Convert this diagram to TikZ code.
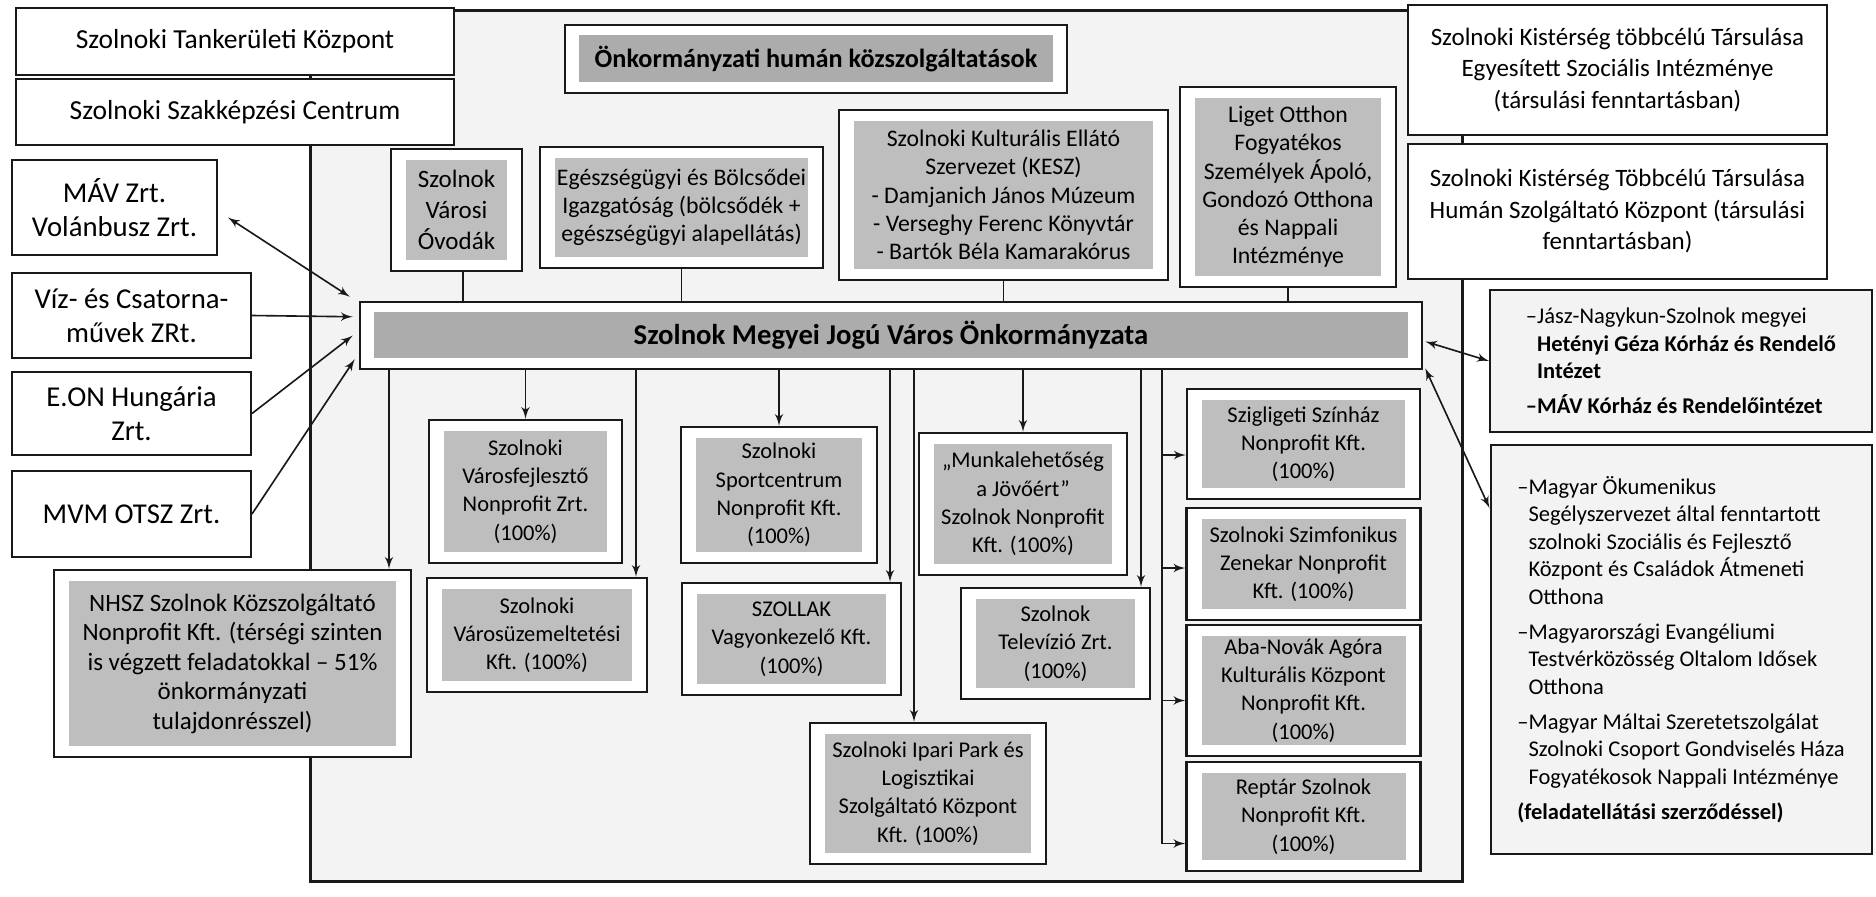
\documentclass[tikz,border=0pt]{standalone}
\usepackage{fontspec}
\setmainfont{Carlito}
\usepackage{xcolor}
\definecolor{boxgrey}{RGB}{190, 190, 190}
\definecolor{bargrey}{RGB}{172, 172, 172}
\definecolor{framegrey}{RGB}{243, 243, 243}
\definecolor{darkline}{RGB}{25, 25, 25}
\usepackage{tikz}
\usetikzlibrary{arrows, positioning, calc}

\begin{document}
\begin{tikzpicture}[x=0.4pt, y=-0.4pt, node distance=4pt,
        wh/.style 2 args={minimum width=#1*0.4pt, minimum height=#2*0.4pt},
        plain/.style={rectangle, draw=darkline, line width=0.8pt, fill=white, align=center, inner sep=2pt, font=\fontsize{11.5}{13.5}\selectfont},
        unit/.style={rectangle, draw=darkline, line width=1pt, fill=white, align=center, inner sep=2pt, font=\fontsize{9}{11.3}\selectfont,
            path picture={\fill[boxgrey] ([shift={(6pt,4.4pt)}]path picture bounding box.south west) rectangle ([shift={(-6pt,-4.4pt)}]path picture bounding box.north east);}},
        banner/.style={rectangle, draw=darkline, line width=1pt, fill=white, align=center, inner sep=2pt,
            path picture={\fill[bargrey] ([shift={(5.6pt,4.4pt)}]path picture bounding box.south west) rectangle ([shift={(-5.6pt,-4pt)}]path picture bounding box.north east);}},
        list/.style={rectangle, draw=darkline, line width=0.8pt, fill=framegrey, align=left, inner sep=2pt, font=\fontsize{9}{11}\selectfont},
        line/.style={draw=darkline, -latex', line width=0.65pt},
        twoway/.style={draw=darkline, latex'-latex', line width=0.65pt},
        link/.style={draw=darkline, line width=0.65pt}]

        \useasboundingbox (0,0) rectangle (1876,896);
        \fill [white] (0,0) rectangle (1876,896);

        % outer frame of the municipal group
        \node [rectangle, draw=darkline, line width=1.2pt, fill=framegrey, wh={1152}{871}] (keret) at (886,445.5) {};

        % left column
        \node [plain, font=\fontsize{11}{13}\selectfont, wh={438}{67}] (tank) at (235,41.5) {Szolnoki Tankerületi Központ};
        \node [plain, font=\fontsize{11}{13}\selectfont, wh={438}{66}, below=0.8pt of tank] (szakk) {Szolnoki Szakképzési Centrum};
        \node [plain, wh={205}{95}] (mav) at (114.5,207.5) {MÁV Zrt.\\Volánbusz Zrt.};
        \node [plain, wh={239}{85}] (viz) at (131.5,315.5) {Víz- és Csatorna-\\művek ZRt.};
        \node [plain, wh={239}{83}, below=4.8pt of viz] (eon) {E.ON Hungária\\Zrt.};
        \node [plain, wh={239}{86}, below=5.6pt of eon] (mvm) {MVM OTSZ Zrt.};
        \node [unit, font=\fontsize{10}{11.8}\selectfont, wh={357}{187}] (nhsz) at (232.5,663.5) {NHSZ Szolnok Közszolgáltató\\Nonprofit Kft. (térségi szinten\\is végzett feladatokkal – 51\%\\önkormányzati\\tulajdonrésszel)};

        % human services
        \node [banner, font=\bfseries\fontsize{10.5}{12}\selectfont, wh={502}{68}] (human) at (816,59) {Önkormányzati humán közszolgáltatások};
        \node [unit, font=\fontsize{10}{12.3}\selectfont, wh={131}{122}] (ovoda) at (456.5,210) {Szolnok\\Városi\\Óvodák};
        \node [unit, font=\fontsize{9.5}{11.3}\selectfont, wh={283}{121}] (egesz) at (681.5,207.5) {Egészségügyi és Bölcsődei\\Igazgatóság (bölcsődék +\\egészségügyi alapellátás)};
        \node [unit, font=\fontsize{9.5}{11.3}\selectfont, wh={329}{170}] (kesz) at (1003.5,195) {Szolnoki Kulturális Ellátó\\Szervezet (KESZ)\\- Damjanich János Múzeum\\- Verseghy Ferenc Könyvtár\\- Bartók Béla Kamarakórus};
        \node [unit, font=\fontsize{9.5}{11.3}\selectfont, wh={216}{200}] (liget) at (1288,187) {Liget Otthon\\Fogyatékos\\Személyek Ápoló,\\Gondozó Otthona\\és Nappali\\Intézménye};

        % the municipality
        \node [banner, font=\bfseries\fontsize{11.5}{13}\selectfont, wh={1062}{67}] (bar) at (891,335.5) {Szolnok Megyei Jogú Város Önkormányzata};

        % right column
        \node [plain, font=\fontsize{10}{12.6}\selectfont, wh={419}{130}] (kist1) at (1617.5,70) {Szolnoki Kistérség többcélú Társulása\\Egyesített Szociális Intézménye\\(társulási fenntartásban)};
        \node [plain, font=\fontsize{10}{12.6}\selectfont, wh={419}{135}, below=2.8pt of kist1] (kist2) {Szolnoki Kistérség Többcélú Társulása\\Humán Szolgáltató Központ (társulási\\fenntartásban)};
        \node [list, wh={382}{142}] (korhaz) at (1681,361) {–Jász-Nagykun-Szolnok megyei\\
            \phantom{–}\textbf{Hetényi Géza Kórház és Rendelő}\\
            \phantom{–}\textbf{Intézet}\\[3pt]
            \textbf{–MÁV Kórház és Rendelőintézet}};
        \node [list, wh={381}{409}, below=4.4pt of korhaz] (ecum) {–Magyar Ökumenikus\\
            \phantom{–}Segélyszervezet által fenntartott\\
            \phantom{–}szolnoki Szociális és Fejlesztő\\
            \phantom{–}Központ és Családok Átmeneti\\
            \phantom{–}Otthona\\[3pt]
            –Magyarországi Evangéliumi\\
            \phantom{–}Testvérközösség Oltalom Idősek\\
            \phantom{–}Otthona\\[3pt]
            –Magyar Máltai Szeretetszolgálat\\
            \phantom{–}Szolnoki Csoport Gondviselés Háza\\
            \phantom{–}Fogyatékosok Nappali Intézménye\\[3pt]
            \textbf{(feladatellátási szerződéssel)}};

        % companies
        \node [unit, wh={193}{143}] (vfejl) at (525.5,491.5) {Szolnoki\\Városfejlesztő\\Nonprofit Zrt.\\(100\%)};
        \node [unit, wh={220}{114}] (vuzem) at (537,635) {Szolnoki\\Városüzemeltetési\\Kft. (100\%)};
        \node [unit, wh={196}{136}] (sport) at (779,495) {Szolnoki\\Sportcentrum\\Nonprofit Kft.\\(100\%)};
        \node [unit, wh={219}{112}] (szollak) at (791.5,639) {SZOLLAK\\Vagyonkezelő Kft.\\(100\%)};
        \node [unit, wh={208}{142}] (munka) at (1023,504) {„Munkalehetőség\\a Jövőért”\\Szolnok Nonprofit\\Kft. (100\%)};
        \node [unit, wh={189}{111}] (tv) at (1055.5,643.5) {Szolnok\\Televízió Zrt.\\(100\%)};
        \node [unit, wh={236}{141}] (ipari) at (928,793.5) {Szolnoki Ipari Park és\\Logisztikai\\Szolgáltató Központ\\Kft. (100\%)};
        \node [unit, wh={233}{110}] (szig) at (1303.5,444) {Szigligeti Színház\\Nonprofit Kft.\\(100\%)};
        \node [unit, wh={234}{112}] (szimf) at (1303.5,564) {Szolnoki Szimfonikus\\Zenekar Nonprofit\\Kft. (100\%)};
        \node [unit, wh={234}{131}] (aba) at (1303.5,690.5) {Aba-Novák Agóra\\Kulturális Központ\\Nonprofit Kft.\\(100\%)};
        \node [unit, wh={234}{109}] (reptar) at (1303.5,816.5) {Reptár Szolnok\\Nonprofit Kft.\\(100\%)};

        % drop points under the bar
        \coordinate (d1) at (389,0);
        \coordinate (d2) at (636,0);
        \coordinate (d3) at (890,0);
        \coordinate (d4) at (914,0);
        \coordinate (d5) at (1141,0);
        \coordinate (fork) at (1162,0);
        \coordinate (u1) at (463,0);

        % human services to the bar
        \path [link] (u1 |- ovoda.south) -- (u1 |- bar.north);
        \path [link] (egesz.south) -- (egesz.south |- bar.north);
        \path [link] (kesz.south) -- (kesz.south |- bar.north);
        \path [link] (liget.south) -- (liget.south |- bar.north);

        % partners on the left
        \path [twoway] ($(mav.east)+(10,10)$) -- ($(bar.north west)+(-9,-4)$);
        \path [line] (viz.east) -- ($(bar.north west)+(-6,16)$);
        \path [line] (eon.east) -- ($(bar.west)+(-6,0)$);
        \path [line] (mvm.east) -- ($(bar.south west)+(-4,-11)$);

        % partners on the right
        \path [twoway] ($(bar.east)+(2,6)$) -- (korhaz.west);
        \path [twoway] ($(bar.south east)+(2,-2)$) -- ($(ecum.north west)+(0,64)$);

        % bar to the companies
        \path [line] (d1 |- bar.south) -- (d1 |- nhsz.north);
        \path [line] (vfejl.north |- bar.south) -- (vfejl.north);
        \path [line] (d2 |- bar.south) -- (d2 |- vuzem.north);
        \path [line] (sport.north |- bar.south) -- (sport.north);
        \path [line] (d3 |- bar.south) -- (d3 |- szollak.north);
        \path [line] (d4 |- bar.south) -- (d4 |- ipari.north);
        \path [line] (munka.north |- bar.south) -- (munka.north);
        \path [line] (d5 |- bar.south) -- (d5 |- tv.north);
        \path [link] (fork |- bar.south) -- ($(fork |- reptar.west)+(0,27)$);
        \path [line] ($(fork |- szig.west)+(0,11)$) -- ($(szig.west)+(0,11)$);
        \path [line] ($(fork |- szimf.west)+(0,4)$) -- ($(szimf.west)+(0,4)$);
        \path [line] ($(fork |- aba.west)+(0,10)$) -- ($(aba.west)+(0,10)$);
        \path [line] ($(fork |- reptar.west)+(0,27)$) -- ($(reptar.west)+(0,27)$);
    \end{tikzpicture}
\end{document}
